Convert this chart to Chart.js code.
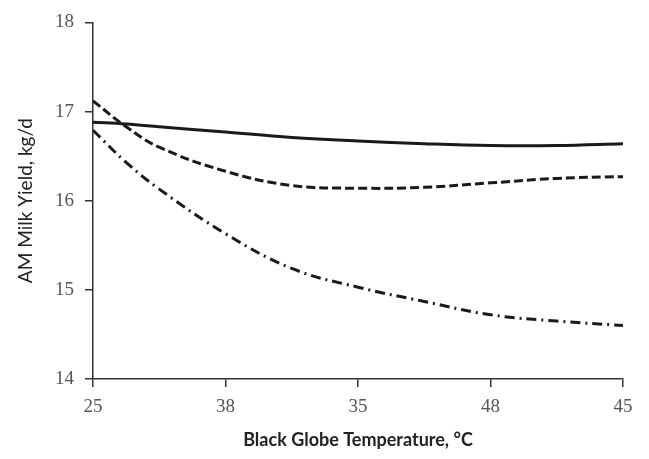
<!DOCTYPE html>
<html>
<head>
<meta charset="utf-8">
<script src="https://cdn.jsdelivr.net/npm/chart.js@4/dist/chart.umd.min.js"></script>
<style>
  html, body { margin: 0; padding: 0; background: #fff; }
  .chart-holder { width: 649px; height: 459px; }
</style>
</head>
<body>
<div class="chart-holder"><canvas id="chart"></canvas></div>
<script>
const temps = [25, 26.25, 27.5, 30, 32.5, 35, 37.5, 40, 42.5, 45];
const solidYield = [16.88, 16.86, 16.83, 16.77, 16.71, 16.67, 16.64, 16.62, 16.62, 16.64];
const dashedYield = [17.12, 16.83, 16.6, 16.33, 16.17, 16.14, 16.15, 16.2, 16.25, 16.27];
const dashDotYield = [16.79, 16.43, 16.13, 15.63, 15.24, 15.03, 14.87, 14.72, 14.65, 14.6];
const xTickLabels = ['25', '38', '35', '48', '45'];
const xTickValues = [25, 30, 35, 40, 45];

(() => {
  const toPoints = (values) => values.map((v, i) => ({ x: temps[i], y: v }));
  const axisColor = '#333';

  const makeSet = (values, dash) => ({
    data: toPoints(values),
    borderColor: '#1a1a1a',
    borderWidth: 3,
    borderDash: dash,
    pointRadius: 0,
    tension: 0.4,
    fill: false,
  });

  new Chart(document.getElementById('chart'), {
    type: 'line',
    data: {
      datasets: [
        makeSet(solidYield, []),
        makeSet(dashedYield, [9, 4]),
        makeSet(dashDotYield, [10, 5, 2, 5]),
      ],
    },
    options: {
      responsive: true,
      maintainAspectRatio: false,
      animation: false,
      layout: { padding: { top: 22, right: 26, left: 0, bottom: 0 } },
      plugins: { legend: { display: false }, tooltip: { enabled: false } },
      scales: {
        x: {
          type: 'linear',
          min: 25,
          max: 45,
          afterFit: (scale) => { scale.height = 80; },
          afterBuildTicks: (scale) => {
            scale.ticks = xTickValues.map((v) => ({ value: v }));
          },
          ticks: {
            callback: (v) => xTickLabels[xTickValues.indexOf(v)],
            font: { family: 'Liberation Serif', size: 19 },
            color: '#555',
            padding: 9,
            maxRotation: 0,
          },
          grid: { drawOnChartArea: false, drawTicks: true, tickLength: 8, color: axisColor, lineWidth: 1.5 },
          border: { display: true, color: axisColor, width: 1.5 },
          title: {
            display: true,
            text: 'Black Globe Temperature, °C',
            font: { family: 'Lato', size: 18, weight: 'bold' },
            color: '#222',
            padding: { top: 0, bottom: 8 },
          },
        },
        y: {
          min: 14,
          max: 18,
          afterFit: (scale) => { scale.width = 93; },
          ticks: {
            stepSize: 1,
            font: { family: 'Liberation Serif', size: 19 },
            color: '#555',
            padding: 11,
          },
          grid: { drawOnChartArea: false, drawTicks: true, tickLength: 8, color: axisColor, lineWidth: 1.5 },
          border: { display: true, color: axisColor, width: 1.5 },
          title: {
            display: true,
            text: 'AM Milk Yield, kg/d',
            font: { family: 'Lato', size: 19 },
            color: '#222',
            padding: { top: 14, bottom: 0 },
          },
        },
      },
    },
  });
})();
</script>
</body>
</html>
